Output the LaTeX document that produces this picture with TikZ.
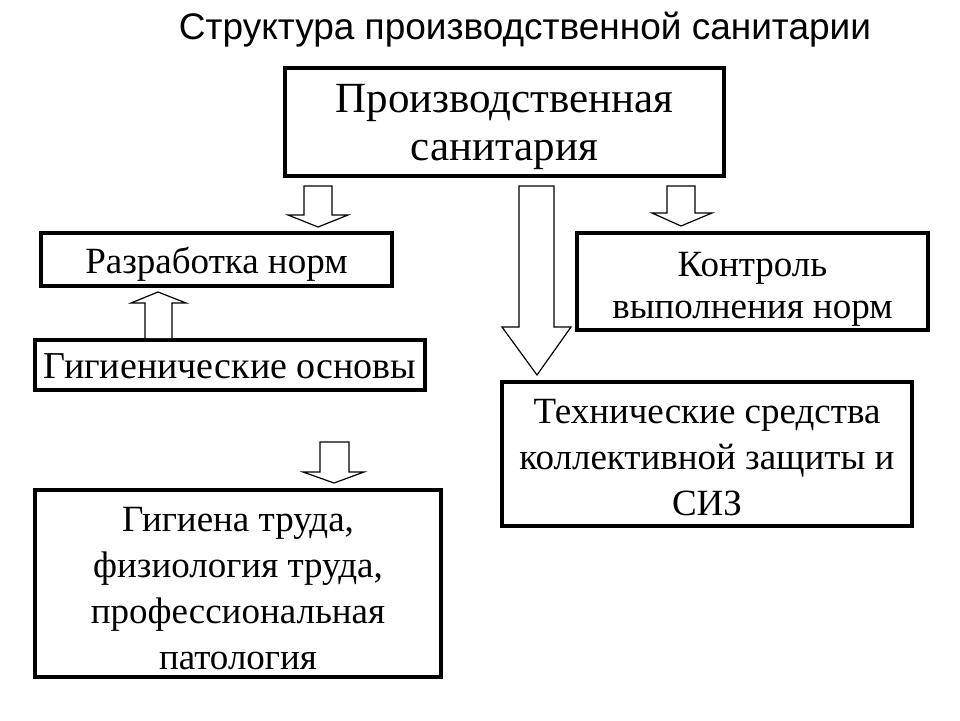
\documentclass[tikz,border=0pt]{standalone}
\usepackage{fontspec}
\setmainfont{Liberation Serif}
\newfontfamily\titlefont{Liberation Sans}
\begin{document}
\begin{tikzpicture}[x=1pt,y=-1pt,
  box/.style={draw=black,line width=3.5pt,fill=white,inner sep=0pt},
  txt/.style={inner sep=0pt,align=center,font=\fontsize{37}{46}\selectfont},
  barrow/.style={draw=black,line width=1.2pt,fill=white,line join=miter}]
\useasboundingbox (0,0) rectangle (960,720);
\fill[white] (0,0) rectangle (960,720);
\node[font=\titlefont\fontsize{37}{44}\selectfont] (title) at (525,30) {Структура производственной санитарии};
% boxes
\node[box,minimum width=439pt,minimum height=108pt] (top) at (504.5,122) {};
\node[box,minimum width=351pt,minimum height=53pt] (norm) at (216.5,259.5) {};
\node[box,minimum width=351pt,minimum height=97pt] (ctrl) at (752.5,281.5) {};
\node[box,minimum width=390pt,minimum height=50pt] (hyg) at (230,365) {};
\node[box,minimum width=410pt,minimum height=144pt] (tech) at (707,454) {};
\node[box,minimum width=406pt,minimum height=187pt] (work) at (238,583.5) {};
% texts
\node[txt,font=\fontsize{43}{48}\selectfont] (topt) at ([yshift=-5pt]top.center) {Производственная\\санитария};
\node[txt] (normt) at ([yshift=-5pt]norm.center) {Разработка норм};
\node[txt,font=\fontsize{37}{42}\selectfont] (ctrlt) at ([yshift=-8pt]ctrl.center) {Контроль\\выполнения норм};
\node[txt,font=\fontsize{38}{45}\selectfont] (hygt) at ([yshift=-1pt]hyg.center) {Гигиенические основы};
\node[txt] (techt) at ([yshift=-4pt]tech.center) {Технические средства\\коллективной защиты и\\СИЗ};
\node[txt] (workt) at ([yshift=-5pt]work.center) {Гигиена труда,\\физиология труда,\\профессиональная\\патология};
% block arrows
\draw[barrow] (304,186) -- (332,186) -- (332,215) -- (348,215) -- (318,227) -- (288,215) -- (304,215) -- cycle;
\draw[barrow] (519,186) -- (554,186) -- (554,327) -- (571,327) -- (537,375) -- (502,327) -- (519,327) -- cycle;
\draw[barrow] (667,186) -- (695,186) -- (695,213) -- (712,213) -- (681,226) -- (652,213) -- (667,213) -- cycle;
\draw[barrow] (145,338) -- (145,303) -- (131,303) -- (158,292) -- (186,303) -- (172,303) -- (172,338);
\draw[barrow] (320,442) -- (349,442) -- (349,472) -- (364,472) -- (334,483) -- (303,472) -- (320,472) -- cycle;
\end{tikzpicture}
\end{document}
